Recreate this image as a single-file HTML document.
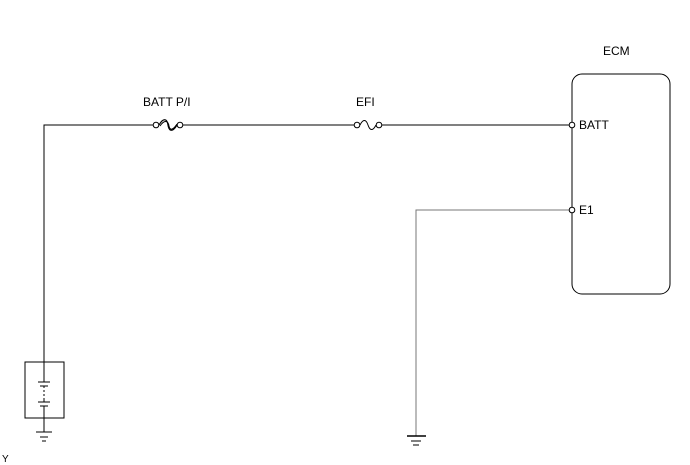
<!DOCTYPE html>
<html><head><style>body{margin:0;background:#fff}svg{display:block}text{font-family:"Liberation Sans",Arial,sans-serif;font-size:12px;fill:#000}</style></head>
<body>
<svg width="690" height="465" viewBox="0 0 690 465">
<g stroke="#000" stroke-width="1" fill="none">
<path d="M44 362 V125 H153"/>
<path d="M183 125 H354"/>
<path d="M382 125 H569"/>
<circle cx="156" cy="125" r="2.8" fill="#fff"/>
<circle cx="180" cy="125" r="2.8" fill="#fff"/>
<path d="M159 125 C163 118,167 118,168 125 C169 132,173 132,177 125" stroke-width="1.2"/>
<path d="M160 126 C164 120,168 120,169 126 C170 131,173 130,177 124" stroke-width="1"/>
<circle cx="357" cy="125" r="2.8" fill="#fff"/>
<circle cx="379" cy="125" r="2.8" fill="#fff"/>
<path d="M360 125 C363 119,366 119,368 125 C370 131,373 131,376 125"/>
<rect x="572" y="74" width="98" height="220" rx="10"/>
<circle cx="572" cy="125" r="2.8" fill="#fff"/>
<path d="M416 436 V210 H569" stroke="#777"/>
<circle cx="572" cy="210" r="2.8" fill="#fff"/>
<rect x="25" y="362" width="39" height="56"/>
<path d="M44 362 V382 M38 382 H50 M40 386 H48 M44 386 V402 M38 402 H50 M40 406 H48 M44 406 V432"/>
<path d="M36 432 H52 M40 437 H48 M42 441 H46"/>
<path d="M407 436 H426" stroke-width="1.5"/>
<path d="M411 441 H421 M413 445 H419"/>
</g>
<path d="M44 388 V400" stroke="#fff" stroke-dasharray="2 2"/>
<text x="143" y="106">BATT P/I</text>
<text x="356" y="106">EFI</text>
<text x="603" y="55">ECM</text>
<text x="579" y="129">BATT</text>
<text x="579" y="214">E1</text>
<text x="2" y="462" style="font-size:10px">Y</text>
</svg>
</body></html>
